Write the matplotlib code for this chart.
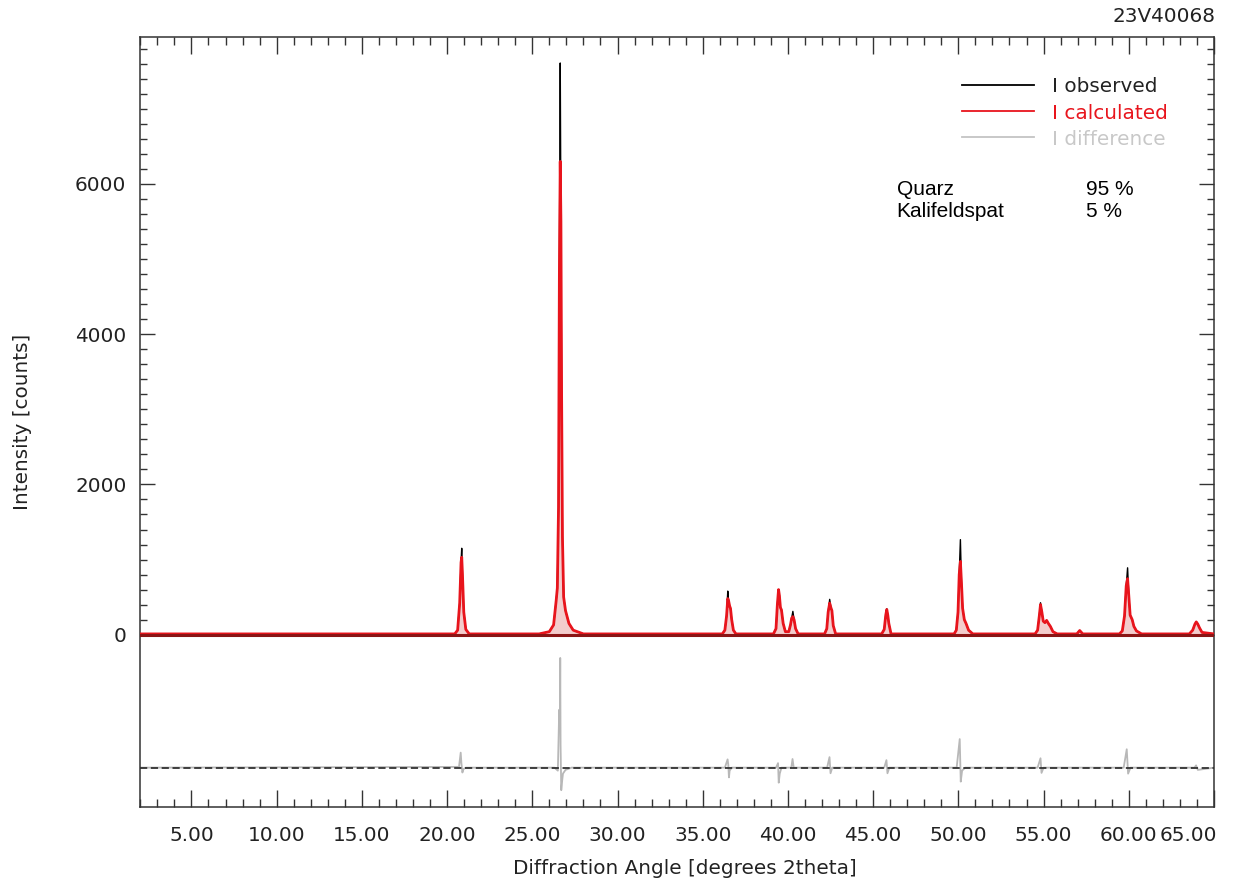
import matplotlib
matplotlib.use('Agg')
import matplotlib.pyplot as plt
from matplotlib.ticker import FixedLocator, MultipleLocator, FormatStrFormatter
from matplotlib.transforms import ScaledTranslation

# 2theta grid (degrees) with observed and calculated intensities
two_theta = [2.00,
             20.45, 20.62, 20.74, 20.82, 20.86, 20.90, 20.98, 21.10, 21.30,
             25.40, 26.00, 26.25, 26.40, 26.47, 26.54, 26.59, 26.64, 26.68, 26.72, 26.77, 26.84, 26.95, 27.15, 27.40, 28.00,
             36.15, 36.30, 36.40, 36.47, 36.52, 36.58, 36.63, 36.70, 36.80, 36.95,
             39.15, 39.30, 39.38, 39.45, 39.50, 39.56, 39.62, 39.72, 39.85, 40.05, 40.15, 40.22, 40.29, 40.36, 40.45, 40.60,
             42.15, 42.28, 42.36, 42.45, 42.52, 42.58, 42.66, 42.80,
             45.50, 45.65, 45.74, 45.80, 45.86, 45.92, 46.05,
             49.75, 49.88, 49.98, 50.05, 50.12, 50.18, 50.25, 50.35, 50.45, 50.60, 50.85,
             54.50, 54.65, 54.75, 54.82, 54.90, 54.98, 55.08, 55.18, 55.28, 55.40, 55.55, 55.80,
             56.95, 57.12, 57.30,
             59.45, 59.62, 59.75, 59.85, 59.93, 60.00, 60.08, 60.20, 60.30, 60.45, 60.75,
             63.55, 63.75, 63.88, 63.96, 64.05, 64.15, 64.30, 65.00]

i_calculated = [10,
                10, 60, 420, 960, 1030, 820, 300, 70, 10,
                10, 40, 130, 450, 620, 1700, 4800, 6300, 5500, 3200, 1300, 500, 320, 150, 60, 10,
                10, 60, 250, 480, 450, 380, 350, 200, 60, 10,
                10, 80, 400, 600, 520, 360, 330, 150, 40, 40, 130, 220, 240, 200, 80, 10,
                10, 80, 300, 420, 360, 320, 120, 10,
                10, 70, 260, 335, 260, 150, 10,
                10, 60, 300, 800, 975, 700, 350, 200, 150, 60, 10,
                10, 60, 250, 400, 300, 180, 160, 190, 150, 110, 40, 10,
                10, 55, 10,
                10, 50, 250, 650, 745, 520, 260, 200, 110, 50, 10,
                10, 60, 140, 170, 140, 90, 30, 10]

i_observed = [10,
              10, 60, 420, 960, 1150, 820, 300, 70, 10,
              10, 40, 130, 450, 620, 1700, 4800, 7610, 5500, 3200, 1300, 500, 320, 150, 60, 10,
              10, 60, 250, 580, 450, 380, 350, 200, 60, 10,
              10, 80, 400, 600, 520, 360, 330, 150, 40, 40, 130, 220, 310, 200, 80, 10,
              10, 80, 300, 470, 360, 320, 120, 10,
              10, 70, 260, 345, 260, 150, 10,
              10, 60, 300, 800, 1265, 700, 350, 200, 150, 60, 10,
              10, 60, 250, 425, 300, 180, 160, 190, 150, 110, 40, 10,
              10, 55, 10,
              10, 50, 250, 650, 890, 520, 260, 200, 110, 50, 10,
              10, 60, 140, 170, 140, 90, 30, 10]

# difference curve, drawn around its own zero line
diff_theta = [2.00,
              20.70, 20.80, 20.84, 20.90, 20.96, 21.10,
              26.30, 26.50, 26.58, 26.62, 26.64, 26.66, 26.70, 26.74, 26.80, 26.95, 27.30,
              36.30, 36.46, 36.50, 36.54, 36.58, 36.70,
              39.30, 39.42, 39.46, 39.52, 39.62, 40.20, 40.27, 40.34,
              42.30, 42.44, 42.50, 42.60,
              45.65, 45.78, 45.84, 45.95,
              49.90, 50.08, 50.14, 50.22, 50.40,
              54.65, 54.82, 54.88, 55.00,
              59.70, 59.88, 59.96, 60.10,
              63.85, 63.95, 64.05, 65.00]
diff_counts = [0,
               10, 200, 60, -65, -20, 0,
               0, -40, 770, 500, 1460, 300, -300, -200, -80, -30, 0,
               0, 110, 40, -130, -40, 0,
               0, 60, -200, -80, 0, 0, 115, 0,
               0, 140, -75, 0,
               0, 100, -75, 0,
               0, 380, -186, -40, 0,
               0, 125, -70, 0,
               0, 245, -80, 0,
               0, 30, -30, 0]
diff_offset = -1770

phases = ['Quarz', 'Kalifeldspat']
phase_percent = ['95 %', '5 %']

x_major = list(range(5, 66, 5))
y_major = [0, 2000, 4000, 6000]
y_minor = [v for v in range(200, 8000, 200) if v not in y_major]

RED = '#e8141c'
GREY = '#b8b8b8'
FONT = 14.4


def main():
    fig = plt.figure(figsize=(12.58, 8.81), dpi=100)
    ax = fig.add_axes([140.3 / 1258, 1 - 806.7 / 881, (1214 - 140.3) / 1258, (806.7 - 36.7) / 881])

    ax.fill_between(two_theta, i_calculated, 0, color='#f3cccc', lw=0, zorder=1)
    ax.plot(two_theta, i_observed, color='black', lw=1.0, zorder=2)
    ax.plot(two_theta, i_calculated, color=RED, lw=2.0, zorder=3)
    ax.axhline(0, color='#8a1515', lw=2.2, zorder=4)

    ax.plot(diff_theta, [diff_offset + d for d in diff_counts], color=GREY, lw=1.3, zorder=2)
    ax.axhline(diff_offset, color='#333333', lw=1.3, dashes=(4, 2), zorder=3)

    ax.set_xlim(2, 65)
    ax.set_ylim(-2290, 7960)

    ax.xaxis.set_major_locator(FixedLocator(x_major))
    ax.xaxis.set_minor_locator(MultipleLocator(1))
    ax.xaxis.set_major_formatter(FormatStrFormatter('%.2f'))
    ax.yaxis.set_major_locator(FixedLocator(y_major))
    ax.yaxis.set_minor_locator(FixedLocator(y_minor))

    ax.tick_params(axis='both', which='both', direction='in', top=True, right=True,
                   colors='#333333', labelcolor='#222222', labelsize=FONT, width=1.0)
    ax.tick_params(axis='x', which='major', length=12, pad=14)
    ax.tick_params(axis='x', which='minor', length=6)
    ax.tick_params(axis='y', which='major', length=11, pad=10)
    ax.tick_params(axis='y', which='minor', length=5)
    for sp in ax.spines.values():
        sp.set_linewidth(1.1)
        sp.set_color('#333333')

    # the last x label is pulled left a bit to stay inside the frame
    fig.canvas.draw()
    last = ax.get_xticklabels()[-1]
    last.set_transform(last.get_transform() + ScaledTranslation(-26 / 100, 0, fig.dpi_scale_trans))

    fig.text(685 / 1258, 1 - 869 / 881, 'Diffraction Angle [degrees 2theta]',
             ha='center', va='center', fontsize=FONT, color='#222222')
    fig.text(23 / 1258, 1 - 421.7 / 881, 'Intensity [counts]', rotation=90,
             ha='center', va='center', fontsize=FONT, color='#222222')
    fig.text(1216 / 1258, 1 - 17 / 881, '23V40068', ha='right', va='center',
             fontsize=FONT, color='#222222')

    # legend drawn by hand
    legend = [('I observed', 'black', '#222222'),
              ('I calculated', RED, RED),
              ('I difference', '#c4c4c4', '#c8c8c8')]
    for k, (label, lc, tc) in enumerate(legend):
        y = 1 - (85 + k * 26.2) / 881
        fig.add_artist(plt.Line2D([961.7 / 1258, 1034 / 1258], [y, y], color=lc, lw=1.3))
        fig.text(1052 / 1258, y - 2 / 881, label, ha='left', va='center', fontsize=FONT, color=tc)

    for k, (name, pct) in enumerate(zip(phases, phase_percent)):
        y = 1 - (195 + k * 21.7) / 881
        fig.text(896.7 / 1258, y, name, ha='left', va='baseline', fontsize=15,
                 family='Liberation Sans', color='black')
        fig.text(1086 / 1258, y, pct, ha='left', va='baseline', fontsize=15,
                 family='Liberation Sans', color='black')

    fig.savefig('out.png', dpi=100)


if __name__ == '__main__':
    main()
